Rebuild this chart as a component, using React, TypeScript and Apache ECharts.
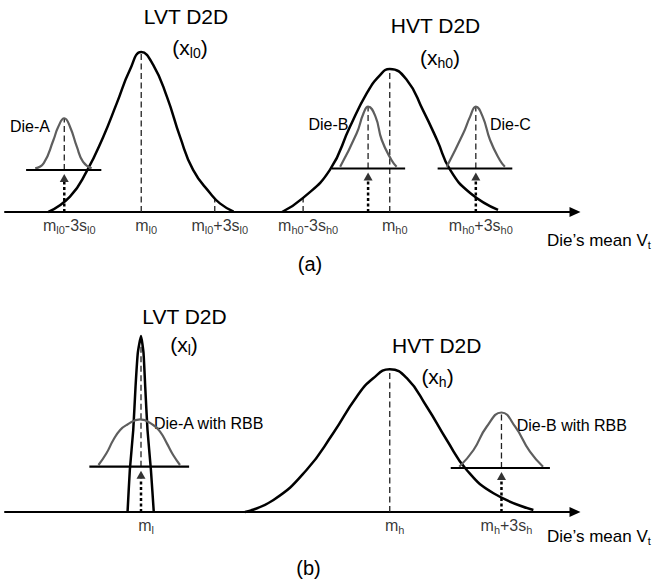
import React, { useEffect, useRef } from 'react';
import * as echarts from 'echarts';

const FONT = '"Liberation Sans", Arial, Helvetica, sans-serif';

type Pt = [number, number];

// x: die's mean Vt (arbitrary units 0..100), y: relative density
// ---------- Panel (a) ----------
const lvtD2DA: Pt[] = [[7.6, 0], [11.4, 9.6], [14.3, 25.2], [17.25, 47.1], [19.6, 67.9], [21.9, 88.7], [23.9, 100], [26.0, 91.9], [28.4, 72.1], [30.7, 47.1], [33.0, 26.3], [36.0, 11.7], [37.7, 5.4], [40.1, 0.2]];
const hvtD2DA: Pt[] = [[48.6, 0], [52.3, 8.8], [57.0, 26.3], [60.5, 53.1], [63.5, 74.4], [65.8, 85.6], [67.5, 89.4], [70.5, 82.5], [73.3, 63.8], [75.8, 45], [78.1, 26.3], [81.6, 11.9], [86.5, 1.3]];
const dieA: Pt[] = [[5.3, 27.3], [6.8, 30.6], [8.5, 45], [9.35, 53.3], [10.4, 58.6], [11.4, 53.3], [12.6, 40.8], [13.7, 31.4], [15.2, 27.3]];
const dieB: Pt[] = [[58.8, 28.3], [61.7, 49.2], [62.9, 61.7], [63.7, 65.8], [65.0, 59.6], [66.1, 45], [67.8, 32.5], [68.7, 28.3]];
const dieC: Pt[] = [[77.5, 28.3], [80.4, 49.2], [81.6, 59.6], [82.6, 65.8], [83.8, 59.6], [85.1, 45], [86.8, 32.5], [87.7, 28.3]];
const ticksA = [10.4, 23.9, 36.8, 52.3, 67.5, 82.6];
const tickLabelsA = ['m_{l0}-3s_{l0}', 'm_{l0}', 'm_{l0}+3s_{l0}', 'm_{h0}-3s_{h0}', 'm_{h0}', 'm_{h0}+3s_{h0}'];
// dashed guides: [x, yFrom, yTo]
const dashedA = [[23.9, 0, 100], [36.8, 0, 8.55], [52.3, 0, 8.8], [67.5, 0, 89.4], [10.4, 26.25, 58.6], [63.7, 27.2, 65.8], [82.6, 27.2, 65.8]];
// die base lines: [xFrom, xTo, y]
const basesA = [[3.7, 16.9, 26.25], [57.3, 70.2, 27.2], [75.9, 89.0, 27.2]];
// dotted arrows: [x, y of base line]
const arrowsA = [[10.4, 26.25], [63.7, 27.2], [82.6, 27.2]];

// ---------- Panel (b) ----------
const lvtD2DB: Pt[] = [[21.5, 0], [21.9, 26.25], [22.5, 51.25], [22.9, 78.3], [23.3, 99.4], [23.86, 110], [24.3, 99.4], [24.6, 78.3], [25.0, 51.25], [25.6, 26.25], [26.1, 0]];
const hvtD2DB: Pt[] = [[42.1, 0], [47.1, 7.5], [52.9, 26.25], [57.6, 49.4], [61.7, 72.1], [64.6, 83.6], [67.5, 89.2], [70.5, 83.6], [74.0, 65.8], [77.5, 45], [81.0, 26.25], [85.7, 11.7], [92.7, 1.25]];
const dieARbb: Pt[] = [[16.4, 29.4], [17.8, 36.7], [19.0, 45], [20.2, 51.25], [21.35, 54.4], [23.7, 57.9], [26.0, 54.4], [27.2, 50.2], [28.4, 42.9], [29.5, 35.6], [30.7, 29.4]];
const dieBRbb: Pt[] = [[79.7, 28.3], [82.2, 38.75], [84.5, 53.3], [87.1, 62.2], [89.5, 53.3], [92.1, 37.7], [94.4, 28.3]];
const ticksB = [23.86, 67.5, 87.1];
const tickLabelsB = ['m_{l}', 'm_{h}', 'm_{h}+3s_{h}'];
const dashedB = [[23.86, 28.3, 110], [67.5, 0, 89.2], [87.1, 27.5, 62.2]];
const basesB = [[14.8, 32.3, 28.3], [78.2, 95.6, 27.5]];
const arrowsB = [[23.86, 28.3], [87.1, 27.5]];

const PX_PER_UNIT_Y = 1.6;
const ARROW_GAP_PX = 12;

function toRich(s: string, main: string, sub: string): string {
  const out: string[] = [];
  const re = /_\{([^}]*)\}/g;
  let last = 0;
  let m: RegExpExecArray | null;
  while ((m = re.exec(s))) {
    if (m.index > last) out.push(`{${main}|${s.slice(last, m.index)}}`);
    out.push(`{${sub}|${m[1]}}`);
    last = re.lastIndex;
  }
  if (last < s.length) out.push(`{${main}|${s.slice(last)}}`);
  return out.join('');
}

function richStyles(main: number, sub: number, lh: number) {
  return {
    n: { fontSize: main, lineHeight: lh, fontFamily: FONT, color: '#000', fill: '#000', verticalAlign: 'middle' },
    s: { fontSize: sub, lineHeight: Math.round(lh / 2), fontFamily: FONT, color: '#000', fill: '#000', verticalAlign: 'bottom' },
  };
}

function panelSeries(
  g: number,
  black: [Pt[], number][],
  gray: Pt[][],
  dashed: number[][],
  bases: number[][],
  arrows: number[][],
  ticks: number[],
  tickLabels: string[]
): any[] {
  const common = { xAxisIndex: g, yAxisIndex: g, silent: true, clip: false, animation: false };
  const s: any[] = [];
  black.forEach(([d, sm]) =>
    s.push({ ...common, type: 'line', data: d, smooth: sm, symbol: 'none', lineStyle: { color: '#000', width: 2.5 }, z: 3 })
  );
  gray.forEach((d) =>
    s.push({ ...common, type: 'line', data: d, smooth: 0.5, symbol: 'none', lineStyle: { color: '#5e5e5e', width: 2.2 }, z: 4 })
  );
  dashed.forEach(([x, y0, y1]) =>
    s.push({ ...common, type: 'line', data: [[x, y0], [x, y1]], symbol: 'none', lineStyle: { color: '#222', width: 1.3, type: [6, 3.5] }, z: 2 })
  );
  bases.forEach(([x0, x1, y]) =>
    s.push({ ...common, type: 'line', data: [[x0, y], [x1, y]], symbol: 'none', lineStyle: { color: '#000', width: 2.2 }, z: 5 })
  );
  const gap = ARROW_GAP_PX / PX_PER_UNIT_Y;
  arrows.forEach(([x, y]) =>
    s.push({ ...common, type: 'line', data: [[x, 0], [x, y - gap]], symbol: 'none', lineStyle: { color: '#000', width: 2.5, type: [3, 2.5], cap: 'butt' }, z: 5 })
  );
  s.push({
    ...common,
    type: 'scatter',
    data: arrows.map(([x, y]) => [x, y - gap]),
    symbol: 'triangle',
    symbolSize: [9, 8],
    symbolOffset: [0, -4],
    itemStyle: { color: '#000' },
    z: 6,
  });
  s.push({
    ...common,
    type: 'scatter',
    symbolSize: 1,
    itemStyle: { color: 'rgba(0,0,0,0)' },
    data: ticks.map((x, i) => ({ value: [x, 0], label: { formatter: toRich(tickLabels[i], 'n', 's') } })),
    label: { show: true, position: 'bottom', distance: 3, offset: [5, 0], color: '#000', rich: richStyles(16, 11, 20) },
    z: 6,
  });
  return s;
}

function txt(x: number, y: number, s: string, size: number, sub: number, align: string, lh: number) {
  const hasSub = s.indexOf('_{') >= 0;
  const style: any = {
    text: hasSub ? toRich(s, 'n', 's') : s,
    fontSize: size,
    fontFamily: FONT,
    fill: '#000',
    align,
    verticalAlign: 'middle',
    textAlign: align,
    textVerticalAlign: 'middle',
  };
  if (hasSub) style.rich = richStyles(size, sub, lh);
  return { type: 'text', x, y, silent: true, style };
}

export default function App() {
  const ref = useRef<HTMLDivElement>(null);
  useEffect(() => {
    if (!ref.current) return;
    const chart = echarts.init(ref.current, undefined, { renderer: 'svg' });
    const xAxisBase = {
      type: 'value',
      min: 0,
      max: 100,
      axisLine: { show: true, onZero: true, symbol: ['none', 'triangle'], symbolSize: [10, 11], lineStyle: { color: '#000', width: 2 } },
      axisTick: { show: false },
      axisLabel: { show: false },
      splitLine: { show: false },
    };
    const yAxisBase = { type: 'value', min: 0, show: false, splitLine: { show: false } };
    const option: any = {
      animation: false,
      backgroundColor: '#fff',
      grid: [
        { left: 5, width: 570, top: 52, height: 160 },
        { left: 5, width: 570, top: 336, height: 176 },
      ],
      xAxis: [
        { ...xAxisBase, gridIndex: 0 },
        { ...xAxisBase, gridIndex: 1 },
      ],
      yAxis: [
        { ...yAxisBase, gridIndex: 0, max: 100 },
        { ...yAxisBase, gridIndex: 1, max: 110 },
      ],
      series: [
        ...panelSeries(0, [[lvtD2DA, 0.5], [hvtD2DA, 0.5]], [dieA, dieB, dieC], dashedA, basesA, arrowsA, ticksA, tickLabelsA),
        ...panelSeries(1, [[lvtD2DB, 0.15], [hvtD2DB, 0.5]], [dieARbb, dieBRbb], dashedB, basesB, arrowsB, ticksB, tickLabelsB),
      ],
      graphic: [
        txt(186, 16, 'LVT D2D', 21, 14, 'center', 26),
        txt(190, 47, '(x_{l0})', 21, 14, 'center', 26),
        txt(435.5, 25, 'HVT D2D', 21, 14, 'center', 26),
        txt(440, 57, '(x_{h0})', 21, 14, 'center', 26),
        txt(50, 126.5, 'Die-A', 16, 11, 'right', 20),
        txt(348.5, 124, 'Die-B', 16, 11, 'right', 20),
        txt(490, 124, 'Die-C', 16, 11, 'left', 20),
        txt(547, 240, 'Die\u2019s mean V_{t}', 17, 11, 'left', 20),
        txt(310, 264, '(a)', 20, 14, 'center', 24),
        txt(184.5, 316.5, 'LVT D2D', 21, 14, 'center', 26),
        txt(184, 344, '(x_{l})', 21, 14, 'center', 26),
        txt(436.7, 345.5, 'HVT D2D', 21, 14, 'center', 26),
        txt(437.5, 376, '(x_{h})', 21, 14, 'center', 26),
        txt(154, 423.3, 'Die-A with RBB', 16, 11, 'left', 20),
        txt(516.7, 425, 'Die-B with RBB', 16, 11, 'left', 20),
        txt(547, 536, 'Die\u2019s mean V_{t}', 17, 11, 'left', 20),
        txt(308.5, 568, '(b)', 20, 14, 'center', 24),
      ],
    };
    chart.setOption(option);
    return () => chart.dispose();
  }, []);
  return <div ref={ref} style={{ position: 'fixed', left: 0, top: 0, width: 653, height: 583 }} />;
}
